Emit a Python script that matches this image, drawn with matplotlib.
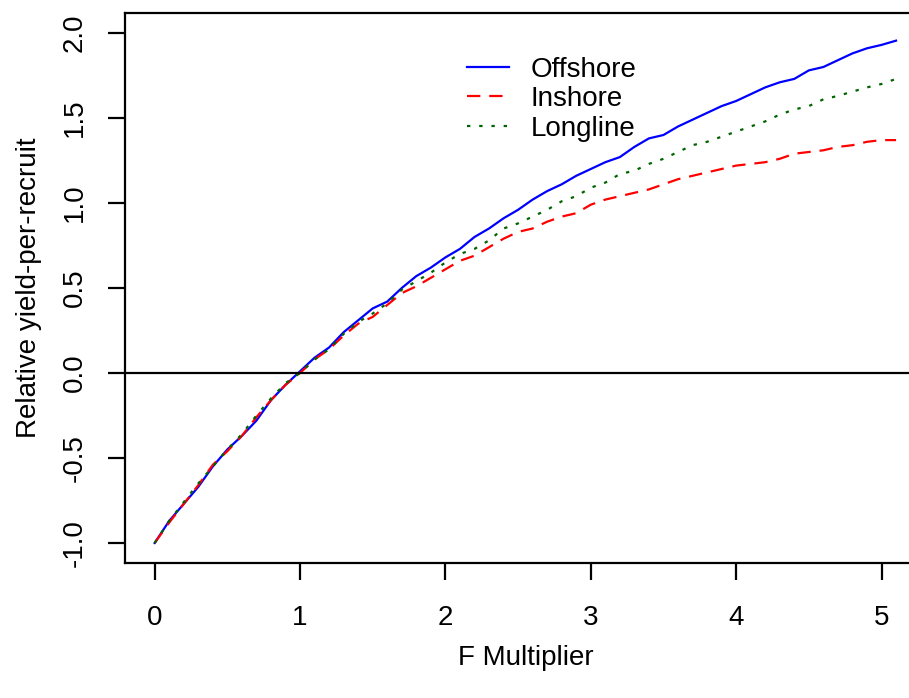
import matplotlib.pyplot as plt

plt.rcParams['font.family'] = ['Liberation Sans', 'DejaVu Sans']

# F multiplier values
f_mult = [round(0.1 * i, 1) for i in range(52)]

# relative yield-per-recruit by fleet
offshore = [-1.00, -0.87, -0.77, -0.67, -0.55, -0.45, -0.37, -0.28, -0.16, -0.07,
            0.01, 0.09, 0.15, 0.24, 0.31, 0.38, 0.42, 0.50, 0.57, 0.62,
            0.68, 0.73, 0.80, 0.85, 0.91, 0.96, 1.02, 1.07, 1.11, 1.16,
            1.20, 1.24, 1.27, 1.33, 1.38, 1.40, 1.45, 1.49, 1.53, 1.57,
            1.60, 1.64, 1.68, 1.71, 1.73, 1.78, 1.80, 1.84, 1.88, 1.91,
            1.93, 1.955]
inshore = [-1.00, -0.88, -0.77, -0.66, -0.54, -0.46, -0.37, -0.26, -0.16, -0.07,
           0.00, 0.08, 0.14, 0.22, 0.29, 0.33, 0.40, 0.47, 0.51, 0.56,
           0.61, 0.66, 0.69, 0.74, 0.79, 0.83, 0.85, 0.89, 0.92, 0.94,
           0.99, 1.02, 1.04, 1.06, 1.08, 1.11, 1.14, 1.16, 1.18, 1.20,
           1.22, 1.23, 1.24, 1.26, 1.29, 1.30, 1.31, 1.33, 1.34, 1.36,
           1.37, 1.37]
longline = [-1.00, -0.87, -0.76, -0.65, -0.55, -0.45, -0.36, -0.25, -0.15, -0.06,
            0.00, 0.08, 0.14, 0.23, 0.30, 0.35, 0.41, 0.49, 0.54, 0.59,
            0.65, 0.70, 0.73, 0.78, 0.85, 0.88, 0.92, 0.96, 1.01, 1.04,
            1.09, 1.12, 1.17, 1.19, 1.23, 1.26, 1.30, 1.34, 1.36, 1.39,
            1.42, 1.45, 1.48, 1.52, 1.55, 1.57, 1.61, 1.63, 1.655, 1.68,
            1.70, 1.73]

x_ticks = [0, 1, 2, 3, 4, 5]
y_ticks = [-1.0, -0.5, 0.0, 0.5, 1.0, 1.5, 2.0]
y_tick_labels = ["-1.0", "-0.5", "0.0", "0.5", "1.0", "1.5", "2.0"]

fig = plt.figure(figsize=(9.09, 6.98), dpi=100)
ax = fig.add_axes([125 / 909, 134.6 / 698, 800.7 / 909, 550.8 / 698])

lw = 1.6
ax.plot(f_mult, offshore, color="blue", lw=lw, label="Offshore")
ax.plot(f_mult, inshore, color="red", lw=lw, linestyle=(0, (6, 4)), label="Inshore")
ax.plot(f_mult, longline, color="darkgreen", lw=lw, linestyle=(0, (1.5, 4)), label="Longline")
ax.axhline(0, color="black", lw=lw)

ax.set_xlim(-0.204, 5.304)
ax.set_ylim(-1.12, 2.12)

ax.set_xticks(x_ticks)
ax.set_xticklabels([str(t) for t in x_ticks])
ax.set_yticks(y_ticks)
ax.set_yticklabels(y_tick_labels, rotation=90, va="center")
ax.tick_params(axis="both", labelsize=20, length=12, width=lw)
ax.tick_params(axis="x", pad=18)
ax.tick_params(axis="y", pad=15)
for s in ax.spines.values():
    s.set_linewidth(lw)

ax.set_xlabel("F Multiplier", fontsize=20, labelpad=10)
ax.set_ylabel("Relative yield-per-recruit", fontsize=20, labelpad=14)

ax.legend(loc="upper left", bbox_to_anchor=(0.396, 0.965), frameon=False,
          fontsize=20, handlelength=1.5, handletextpad=0.8, labelspacing=0.12)

fig.savefig("out.png", dpi=100)
